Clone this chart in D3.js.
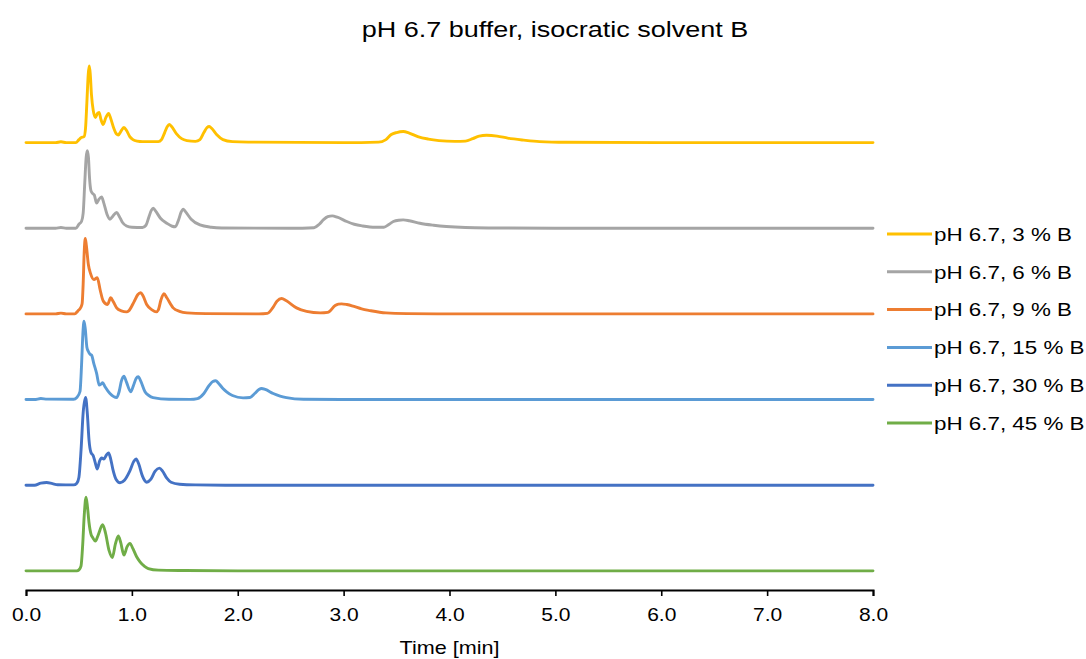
<!DOCTYPE html>
<html>
<head>
<meta charset="utf-8">
<script src="https://cdn.jsdelivr.net/npm/d3@7"></script>
<style>
  html, body { margin: 0; padding: 0; background: #fff; }
  svg text { font-family: "Liberation Sans", Arial, sans-serif; fill: #000; }
</style>
</head>
<body>
<svg id="chart" width="1086" height="659"></svg>
<script>
// ---------------- data ----------------
const chartTitle = "pH 6.7 buffer, isocratic solvent B";
const xAxisTitle = "Time [min]";
const seriesNames = ["pH 6.7, 3 % B", "pH 6.7, 6 % B", "pH 6.7, 9 % B", "pH 6.7, 15 % B", "pH 6.7, 30 % B", "pH 6.7, 45 % B"];
const seriesOffsets = [425, 340, 255, 170, 85, 0];   // vertical stacking offset (signal units)
const xTickValues = [0, 1, 2, 3, 4, 5, 6, 7, 8];
const xTickLabels = ["0.0", "1.0", "2.0", "3.0", "4.0", "5.0", "6.0", "7.0", "8.0"];

// [time (min), signal]
const trace3B = [[0,0],[0.28,0],[0.33,0.8],[0.38,0],[0.47,0],[0.50,3],[0.52,5],[0.548,6],[0.562,14],[0.575,40],[0.588,68],[0.598,76],[0.607,68],[0.618,48],[0.635,32],[0.656,25],[0.675,29],[0.69,30],[0.708,23],[0.728,18],[0.755,25],[0.78,29],[0.80,24],[0.83,14],[0.855,8.5],[0.872,7.5],[0.895,11],[0.925,15],[0.95,12],[0.98,6],[1.01,3],[1.05,1.5],[1.10,1],[1.25,1],[1.28,3],[1.31,10],[1.335,16],[1.353,18],[1.375,16],[1.42,9],[1.47,4],[1.52,2],[1.60,1.2],[1.643,3],[1.68,10],[1.71,15],[1.731,16],[1.755,14],[1.80,8],[1.86,3],[1.95,1],[2.1,0.5],[3.0,0],[3.33,0.5],[3.40,3],[3.45,8],[3.50,10],[3.563,11],[3.62,9.5],[3.70,6],[3.80,3.5],[3.90,2],[4.05,1.2],[4.15,1.5],[4.22,4],[4.28,6.5],[4.35,7.3],[4.45,6.5],[4.55,4.5],[4.70,2.5],[4.85,1],[5.1,0.3],[6,0],[8,0]];
const trace6B = [[0,0],[0.28,0],[0.33,0.8],[0.38,0],[0.47,0],[0.50,4],[0.525,7],[0.54,15],[0.555,45],[0.568,70],[0.579,77],[0.59,70],[0.60,50],[0.612,38],[0.625,35],[0.645,33],[0.667,25],[0.69,29],[0.714,31],[0.735,25],[0.765,14],[0.793,9],[0.82,12],[0.856,15.7],[0.88,12],[0.91,6],[0.95,2.3],[1.0,1],[1.10,0.8],[1.133,3],[1.16,11],[1.185,18],[1.202,20],[1.225,17],[1.27,10],[1.33,5],[1.38,2],[1.41,1.5],[1.44,8],[1.465,16],[1.486,19],[1.51,16],[1.56,9],[1.643,3.3],[1.75,1],[1.85,0.3],[2.5,0],[2.72,0.5],[2.77,4],[2.81,8.5],[2.85,11.5],[2.893,12.3],[2.94,11],[3.03,6.7],[3.10,4],[3.18,2.3],[3.30,1],[3.38,1],[3.43,4],[3.47,6.7],[3.52,8],[3.563,8.3],[3.62,7.5],[3.72,5],[3.85,3],[3.97,1.7],[4.15,0.7],[4.4,0.3],[5,0],[8,0]];
const trace9B = [[0,0],[0.28,0],[0.33,0.8],[0.38,0],[0.46,0],[0.49,3],[0.515,6],[0.53,10],[0.54,30],[0.55,62],[0.56,75],[0.57,68],[0.589,49],[0.61,40],[0.642,34],[0.673,36],[0.70,24],[0.73,12.7],[0.77,9.3],[0.80,16],[0.825,12],[0.856,6],[0.90,3],[0.95,2],[0.97,3],[1.02,12],[1.055,19],[1.083,21],[1.105,18],[1.14,9.3],[1.19,4],[1.23,2],[1.25,4],[1.275,14],[1.303,20],[1.33,16],[1.39,6],[1.45,2.5],[1.52,1],[1.7,0.3],[2.2,0],[2.28,0.5],[2.33,6],[2.37,12.5],[2.414,15.3],[2.46,13],[2.555,6],[2.65,2.5],[2.78,1],[2.85,1.5],[2.92,8.3],[2.95,9.7],[2.981,10],[3.03,9.3],[3.09,7.7],[3.17,5],[3.25,3.3],[3.40,1],[3.6,0.3],[4,0],[8,0]];
const trace15B = [[0,0],[0.08,0],[0.14,1],[0.20,0.4],[0.45,0.3],[0.48,2],[0.51,8],[0.525,35],[0.537,65],[0.548,77.7],[0.56,70],[0.575,52],[0.589,47.7],[0.605,45],[0.62,44],[0.64,36],[0.667,26],[0.692,14.3],[0.71,15.5],[0.724,16.7],[0.745,13],[0.793,6],[0.856,2],[0.88,8],[0.90,18],[0.925,23.3],[0.95,17],[0.989,7.7],[1.015,14],[1.04,21],[1.06,22.7],[1.085,18],[1.124,7.7],[1.16,4],[1.2,2],[1.35,0.3],[1.55,0.2],[1.62,1],[1.68,6],[1.73,14],[1.765,18],[1.791,18.7],[1.82,16],[1.86,11],[1.895,7.7],[1.95,4],[2.05,1.7],[2.115,2],[2.16,6],[2.20,10],[2.225,11],[2.26,10],[2.335,6],[2.40,3.5],[2.46,2],[2.62,0.3],[3,0],[8,0]];
const trace30B = [[0,0],[0.08,0],[0.14,2],[0.195,2.7],[0.25,1.5],[0.30,0.5],[0.45,0.3],[0.48,2],[0.50,8],[0.52,35],[0.54,72],[0.563,87],[0.58,70],[0.595,45],[0.612,33],[0.636,29],[0.655,22],[0.673,16],[0.695,24],[0.715,27],[0.735,26],[0.76,30],[0.78,32],[0.80,26],[0.82,16],[0.85,6],[0.888,2.5],[0.93,5],[0.98,14],[1.02,24],[1.04,26],[1.065,21],[1.10,9],[1.14,3],[1.18,6],[1.22,14],[1.26,17],[1.29,14],[1.33,7],[1.37,3],[1.45,1],[1.6,0.3],[2,0],[8,0]];
const trace45B = [[0,0],[0.48,0],[0.50,1],[0.52,5],[0.535,25],[0.55,55],[0.567,73],[0.58,64],[0.595,48],[0.615,36],[0.63,33],[0.655,29.5],[0.68,35],[0.724,45.7],[0.75,38],[0.785,20],[0.815,13.3],[0.845,27],[0.872,34.7],[0.895,28],[0.925,15.7],[0.955,24],[0.982,27.3],[1.01,22],[1.045,14],[1.077,9],[1.12,4.5],[1.155,2.3],[1.25,0.7],[1.5,0.3],[2,0],[8,0]];
const seriesData = [trace3B, trace6B, trace9B, trace15B, trace30B, trace45B];

// ---------------- styles ----------------
const seriesColors = ["#FFC000", "#A5A5A5", "#ED7D31", "#5B9BD5", "#4472C4", "#70AD47"];

// ---------------- layout ----------------
const svg = d3.select("#chart");
const x = d3.scaleLinear().domain([0, 8]).range([26, 873]);
const y = d3.scaleLinear().domain([-19, 507]).range([590, 60]);
const textSX = 1.2;

const line = d3.line()
  .x(d => x(d[0]))
  .y(d => y(d[1]))
  .curve(d3.curveMonotoneX);

// traces (draw bottom to top so upper ones overlay like reference)
for (let i = seriesData.length - 1; i >= 0; i--) {
  const off = seriesOffsets[i];
  svg.append("path")
    .datum(seriesData[i].map(p => [p[0], p[1] + off]))
    .attr("d", line)
    .attr("fill", "none")
    .attr("stroke", seriesColors[i])
    .attr("stroke-width", 2.9)
    .attr("stroke-linejoin", "round")
    .attr("stroke-linecap", "round");
}

// x axis
const axis = d3.axisBottom(x)
  .tickValues(xTickValues)
  .tickFormat((d, i) => xTickLabels[i])
  .tickSize(6)
  .tickSizeOuter(6);
const gx = svg.append("g").attr("transform", "translate(0,590)").call(axis);
gx.select(".domain").attr("stroke", "#000").attr("stroke-width", 2);
gx.selectAll(".tick line").attr("stroke", "#000").attr("stroke-width", 1.6);
gx.selectAll(".tick text")
  .attr("font-size", 17.5)
  .attr("y", 0)
  .attr("dy", 0)
  .attr("font-family", "Liberation Sans, Arial, sans-serif")
  .attr("transform", `translate(0,31) scale(${textSX},1)`)
  .attr("fill", "#000");

// axis title
svg.append("text")
  .attr("text-anchor", "middle")
  .attr("font-size", 18)
  .attr("transform", `translate(${x(4)},654) scale(${textSX},1)`)
  .text(xAxisTitle);

// chart title
svg.append("text")
  .attr("text-anchor", "middle")
  .attr("font-size", 22.5)
  .attr("transform", `translate(555,37) scale(${textSX},1)`)
  .text(chartTitle);

// legend
const legend = svg.append("g");
seriesNames.forEach((name, i) => {
  const ry = 234 + i * 37.8;
  legend.append("line")
    .attr("x1", 887).attr("x2", 932)
    .attr("y1", ry).attr("y2", ry)
    .attr("stroke", seriesColors[i])
    .attr("stroke-width", 3);
  legend.append("text")
    .attr("font-size", 18.8)
    .attr("transform", `translate(934,${ry + 6.8}) scale(1.19,1)`)
    .text(name);
});
</script>
</body>
</html>
